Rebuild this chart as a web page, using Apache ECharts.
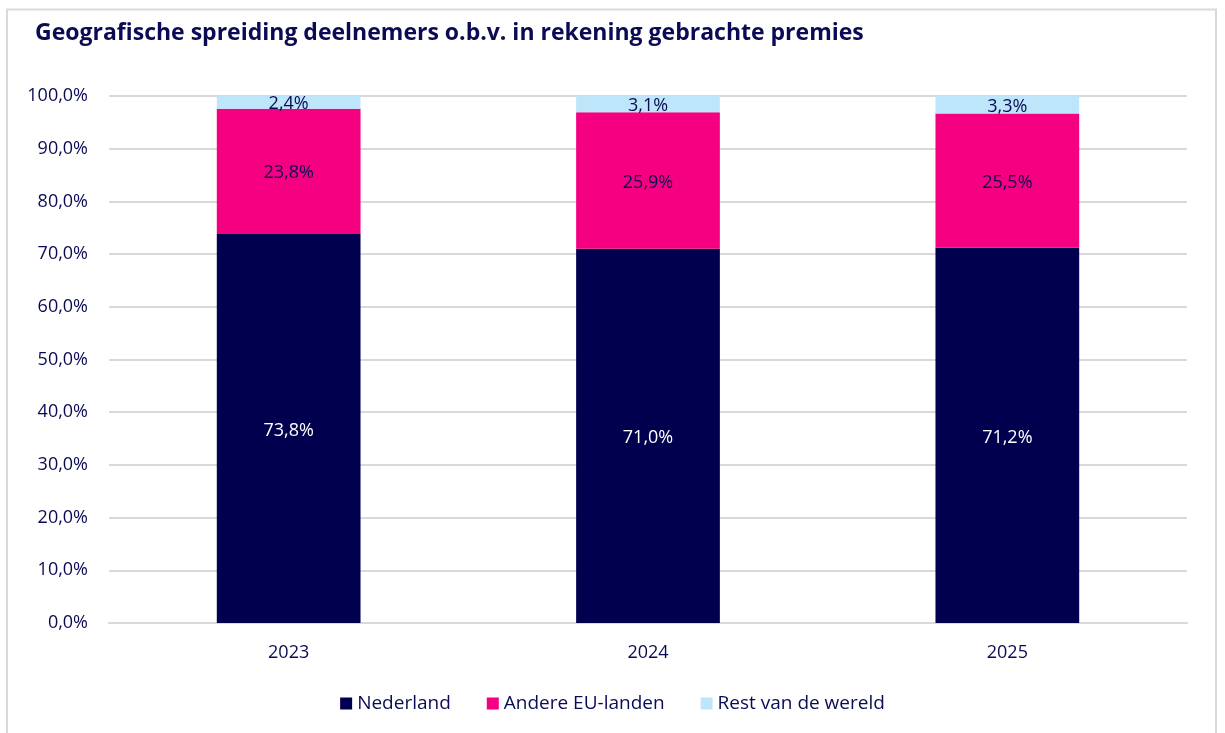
<!DOCTYPE html>
<html>
<head>
<meta charset="utf-8">
<script src="https://cdn.jsdelivr.net/npm/echarts@6/dist/echarts.min.js"></script>
<style>
  html, body { margin: 0; padding: 0; background: #ffffff; }
  #chart { width: 1225px; height: 733px; }
</style>
</head>
<body>
<div id="chart"></div>
<script>
// Geographic spread of participants by premiums charged (share in %)
const years = ['2023', '2024', '2025'];
const nederland = [73.8, 71.0, 71.2];
const andereEU = [23.8, 25.9, 25.5];
const restWereld = [2.4, 3.1, 3.3];
const yTicks = { min: 0, max: 100, interval: 10 };

const navy = '#0b0b55';
const fontFamily = '"Open Sans", Lato, sans-serif';
const pct = v => v.toFixed(1).replace('.', ',') + '%';

const chart = echarts.init(document.getElementById('chart'));

function seriesOf(name, data, color, labelColor) {
  return {
    name: name,
    type: 'bar',
    stack: 'total',
    data: data,
    barWidth: '40%',
    itemStyle: { color: color },
    label: {
      show: true,
      position: 'inside',
      offset: [0, 2],
      color: labelColor,
      fontFamily: fontFamily,
      fontSize: 18,
      formatter: p => pct(p.value)
    },
    emphasis: { disabled: true }
  };
}

chart.setOption({
  animation: false,
  backgroundColor: '#ffffff',
  title: {
    text: 'Geografische spreiding deelnemers o.b.v. in rekening gebrachte premies',
    left: 30,
    top: 17,
    textStyle: { color: navy, fontFamily: fontFamily, fontSize: 23, fontWeight: 'bold' }
  },
  graphic: [{
    type: 'rect',
    silent: true,
    shape: { x: 7, y: 9.5, width: 1209, height: 760 },
    style: { fill: 'none', stroke: '#d9d9d9', lineWidth: 2 }
  }],
  legend: {
    bottom: 15,
    left: 'center',
    itemWidth: 12,
    itemHeight: 12,
    itemGap: 36,
    icon: 'rect',
    textStyle: { color: navy, fontFamily: fontFamily, fontSize: 19 },
    data: ['Nederland', 'Andere EU-landen', 'Rest van de wereld']
  },
  grid: { left: 109, right: 38, top: 96, bottom: 110 },
  xAxis: {
    type: 'category',
    data: years,
    axisLine: { show: true, lineStyle: { color: '#d9d9d9', width: 2 } },
    axisTick: { show: false },
    axisLabel: { color: navy, fontFamily: fontFamily, fontSize: 18, margin: 21 }
  },
  yAxis: {
    type: 'value',
    min: yTicks.min,
    max: yTicks.max,
    interval: yTicks.interval,
    axisLine: { show: false },
    axisTick: { show: false },
    splitLine: { lineStyle: { color: '#d9d9d9', width: 2 } },
    axisLabel: { color: navy, fontFamily: fontFamily, fontSize: 18, margin: 21, formatter: v => pct(v) }
  },
  series: [
    seriesOf('Nederland', nederland, '#00004f', '#ffffff'),
    seriesOf('Andere EU-landen', andereEU, '#f50080', navy),
    seriesOf('Rest van de wereld', restWereld, '#bde6fb', navy)
  ]
});
</script>
</body>
</html>
